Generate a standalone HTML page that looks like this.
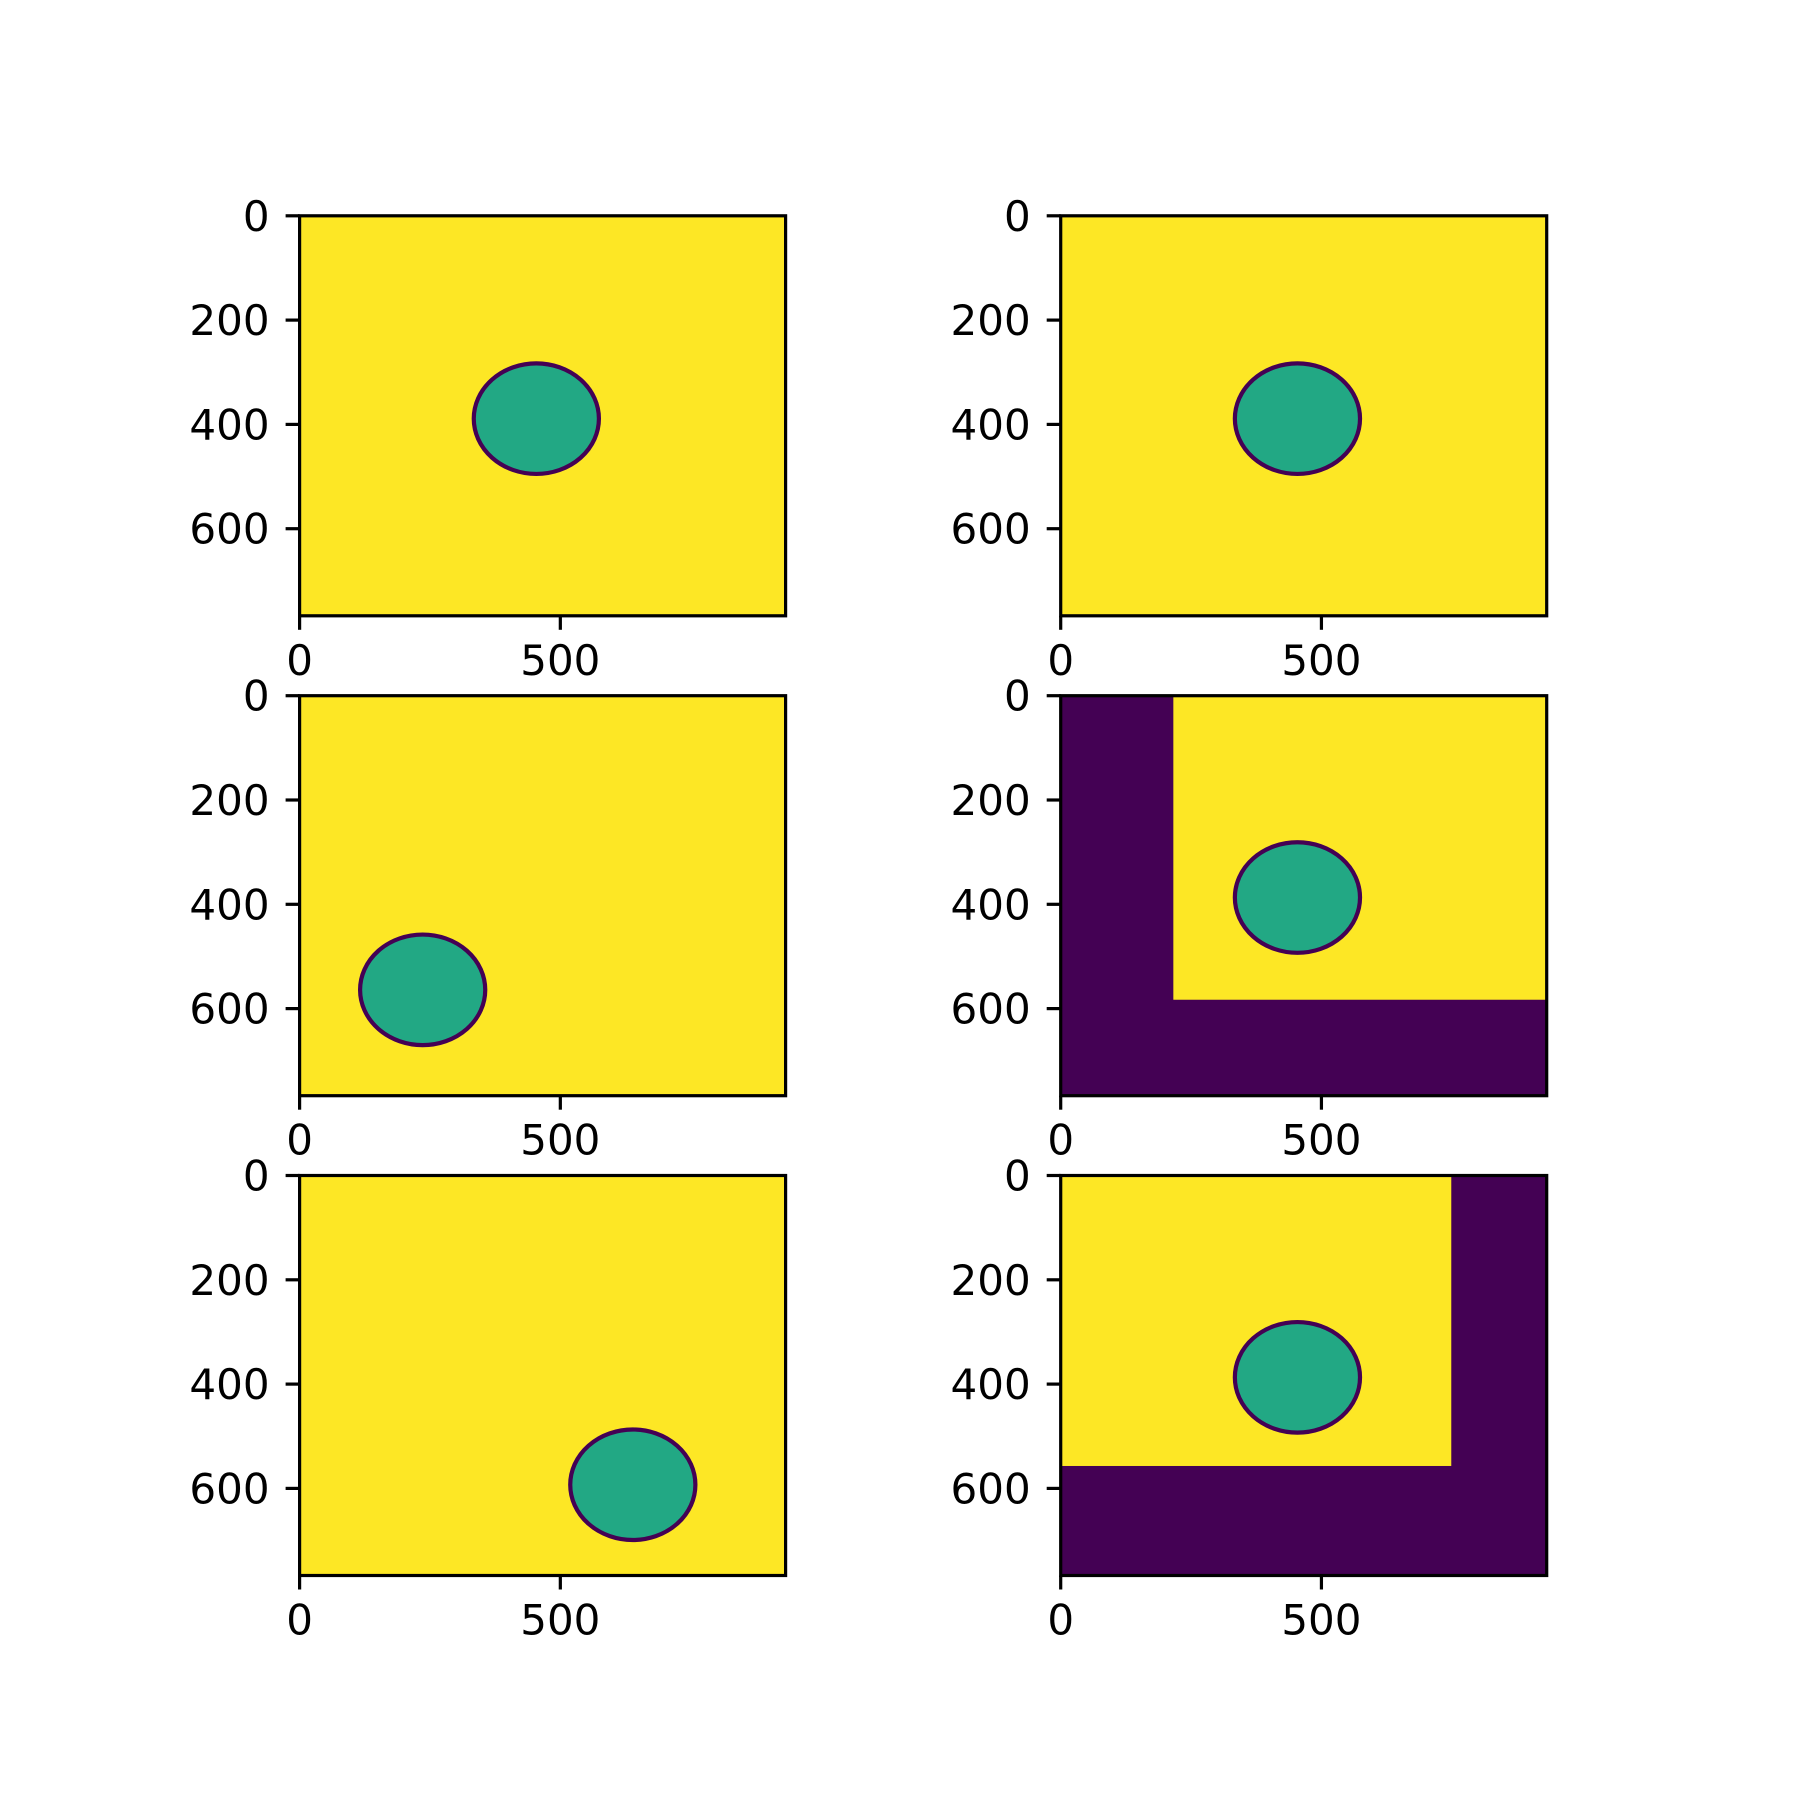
<!DOCTYPE html>
<html><head><meta charset="utf-8"><style>
html,body{margin:0;padding:0;background:#fff;}
svg{display:block;font-family:"DejaVu Sans","Liberation Sans",sans-serif;}
</style></head>
<body>
<svg id="fig" width="1800" height="1800" viewBox="0 0 1800 1800"></svg>
<script>
// Image data extents
const imgW = 932;
const imgH = 767;
const xTicks = [0, 500];
const yTicks = [0, 200, 400, 600];
// Circle per panel: [cx, cy, rx, ry]
const circles = [[454,389,120,106],[454,389,120,106],[236,564,120,106],[454,387,120,106],[639,593,120,106],[454,387,120,106]];
// Yellow rectangle per panel: [x0, y0, x1, y1] (rest dark); null = all yellow
const yellowRects = [null, null, null, [216,0,932,583], null, [0,0,749,557]];
const panelNames = ['panel-1','panel-2','panel-3','panel-4','panel-5','panel-6'];

const lefts = [299.6, 1060.7];
const tops = [215.8, 695.7, 1175.5];
const pw = 486, ph = 400;
const NS = 'http://www.w3.org/2000/svg';
const svg = document.getElementById('fig');
function mk(tag, attrs, parent){const e=document.createElementNS(NS,tag);for(const k in attrs)e.setAttribute(k,attrs[k]);parent.appendChild(e);return e;}

for(let i=0;i<6;i++){
  const L = lefts[i%2], T = tops[Math.floor(i/2)];
  const sx = v => L + v/imgW*pw;
  const sy = v => T + v/imgH*ph;
  const g = mk('g',{},svg);
  
  
  const yr = yellowRects[i];
  const bg = mk('rect',{x:L,y:T,width:pw,height:ph,fill: yr ? '#440154' : '#fde725'},g);
  
  
  if(yr){
    const r = mk('rect',{x:sx(yr[0]),y:sy(yr[1]),width:sx(yr[2])-sx(yr[0]),height:sy(yr[3])-sy(yr[1]),fill:'#fde725'},g);
    
    
  }
  const c = circles[i];
  const el = mk('ellipse',{cx:sx(c[0]),cy:sy(c[1]),rx:c[2]/imgW*pw,ry:c[3]/imgH*ph,fill:'#22a884',stroke:'#440154','stroke-width':4.2},g);
  
  
  const fr = mk('rect',{x:L,y:T,width:pw,height:ph,fill:'none',stroke:'#000','stroke-width':3.2},g);
  
  
  for(const t of yTicks){
    const y = sy(t);
    const ln = mk('line',{x1:L,x2:L-14,y1:y,y2:y,stroke:'#000','stroke-width':3.2},g);
    
    
    const tx = mk('text',{x:L-30,y:y+15,'text-anchor':'end','font-size':42,fill:'#000'},g);
    tx.textContent = t;
    
    
  }
  for(const t of xTicks){
    const x = sx(t), B = T+ph;
    const ln = mk('line',{x1:x,x2:x,y1:B,y2:B+14,stroke:'#000','stroke-width':3.2},g);
    
    
    const tx = mk('text',{x:x,y:B+59,'text-anchor':'middle','font-size':42,fill:'#000'},g);
    tx.textContent = t;
    
    
  }
}
</script>
</body></html>
